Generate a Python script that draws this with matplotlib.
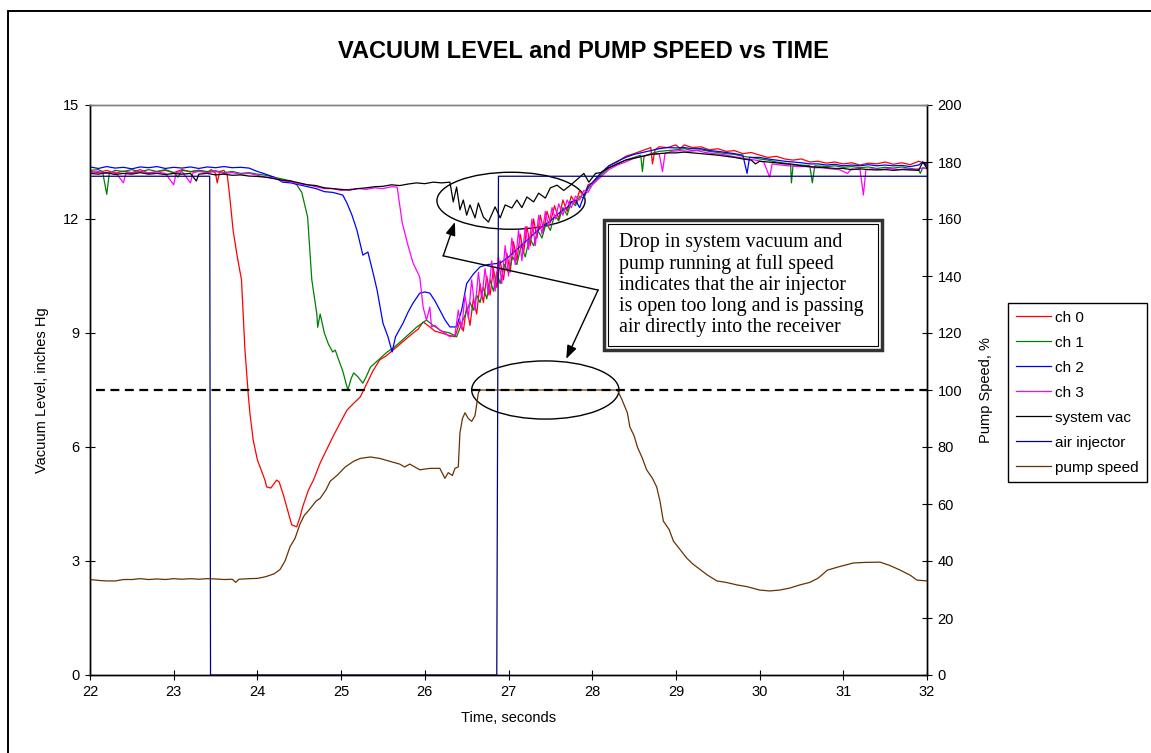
import numpy as np
import matplotlib
matplotlib.use("Agg")
import matplotlib.pyplot as plt
from matplotlib.patches import Ellipse, Rectangle

plt.rcParams['font.family'] = ['Liberation Sans', 'DejaVu Sans']

# ---- data ----
t_ch0 = [22.0, 22.1, 22.2, 22.3, 22.4, 22.5, 22.6, 22.7, 22.8, 22.9, 23.0, 23.1, 23.2, 23.3, 23.4, 23.45, 23.5, 23.52, 23.55, 23.6,
         23.64, 23.67, 23.71, 23.76, 23.81, 23.85, 23.89, 23.91, 23.95, 24.0, 24.09, 24.11, 24.16, 24.23, 24.26, 24.31, 24.37, 24.41, 24.47,
         24.51, 24.54, 24.61, 24.67, 24.75, 24.82, 24.9, 24.98, 25.07, 25.15, 25.23, 25.31, 25.38, 25.46, 25.54, 25.62, 25.7, 25.78,
         25.86, 25.92, 25.98, 26.06, 26.12, 26.2, 26.27, 26.36,
         26.42, 26.46, 26.5, 26.54, 26.58, 26.62, 26.66, 26.7, 26.74, 26.78, 26.82, 26.86, 26.9, 26.94, 26.98, 27.02, 27.06, 27.1,
         27.14, 27.18, 27.22, 27.26, 27.3, 27.34, 27.38, 27.42, 27.46, 27.5, 27.55, 27.6, 27.65, 27.7, 27.75, 27.8, 27.85, 27.9, 27.95, 28.0,
         28.1, 28.2, 28.3, 28.4, 28.5, 28.6, 28.7, 28.72, 28.75, 28.8, 28.9, 29.0, 29.05, 29.1, 29.2, 29.3, 29.4, 29.5, 29.6, 29.7, 29.8,
         29.9, 30.0, 30.1, 30.2, 30.3, 30.4, 30.5, 30.6, 30.7, 30.8, 30.9, 31.0, 31.1, 31.2, 31.3, 31.4, 31.5, 31.6, 31.7, 31.8, 31.9, 32.0]
v_ch0 = [13.25, 13.22, 13.28, 13.2, 13.26, 13.22, 13.3, 13.2, 13.25, 13.28, 13.22, 13.3, 13.24, 13.28, 13.22, 13.3, 13.2, 12.95, 13.25, 13.28,
         13.15, 12.58, 11.7, 11.0, 10.4, 8.6, 7.4, 6.9, 6.18, 5.66, 5.13, 4.95, 4.92, 5.13, 5.08, 4.74, 4.26, 3.95, 3.9,
         4.16, 4.42, 4.87, 5.13, 5.58, 5.9, 6.26, 6.6, 6.97, 7.15, 7.32, 7.68, 8.0, 8.29, 8.4, 8.55, 8.7, 8.85,
         9.0, 9.1, 9.29, 9.16, 9.05, 9.0, 8.95, 8.9,
         9.3, 9.05, 9.7, 9.2, 9.9, 9.5, 10.3, 9.8, 10.5, 10.0, 10.7, 10.2, 10.9, 10.4, 11.1, 10.6, 11.4, 10.9,
         11.6, 11.1, 11.8, 11.3, 12.0, 11.5, 12.1, 11.7, 12.2, 11.9, 12.35, 12.0, 12.5, 12.2, 12.6, 12.4, 12.75, 12.6, 12.9, 12.95,
         13.2, 13.4, 13.5, 13.65, 13.72, 13.8, 13.88, 13.45, 13.82, 13.9, 13.88, 13.95, 13.85, 13.95, 13.88, 13.9, 13.82, 13.85, 13.78, 13.8, 13.72,
         13.75, 13.68, 13.62, 13.65, 13.58, 13.55, 13.58, 13.5, 13.52, 13.47, 13.5, 13.45, 13.48, 13.42, 13.47, 13.45, 13.5, 13.44, 13.48, 13.43, 13.52, 13.45]

t_ch1 = [22.0, 22.1, 22.15, 22.2, 22.23, 22.3, 22.4, 22.5, 22.6, 22.7, 22.8, 22.9, 23.0, 23.05, 23.1, 23.2, 23.3, 23.4, 23.5, 23.6,
         23.7, 23.8, 23.9, 24.0, 24.1, 24.2, 24.3, 24.4, 24.47, 24.53, 24.6, 24.65, 24.71, 24.72, 24.75, 24.8, 24.85, 24.9, 24.93,
         24.97, 25.02, 25.08, 25.12, 25.15, 25.2, 25.26, 25.3, 25.35, 25.45, 25.55, 25.62, 25.7, 25.8, 25.9, 26.02, 26.1, 26.2, 26.3,
         26.38, 26.45, 26.54,
         26.58, 26.62, 26.66, 26.7, 26.74, 26.78, 26.82, 26.86, 26.9, 26.95, 27.0, 27.05, 27.1, 27.15, 27.2, 27.25, 27.3, 27.35, 27.4,
         27.45, 27.5, 27.55, 27.6, 27.65, 27.7, 27.75, 27.8, 27.85, 27.9, 27.95, 28.0, 28.1, 28.2, 28.3, 28.4, 28.5, 28.58, 28.6, 28.62,
         28.7, 28.8, 28.9, 29.0, 29.1, 29.2, 29.3, 29.4, 29.5, 29.6, 29.7, 29.8, 29.9, 30.0, 30.1, 30.2, 30.3, 30.37, 30.38, 30.4,
         30.5, 30.6, 30.63, 30.66, 30.8, 30.9, 31.0, 31.1, 31.2, 31.3, 31.4, 31.5, 31.6, 31.7, 31.8, 31.9, 31.92, 31.95, 32.0]
v_ch1 = [13.28, 13.3, 13.25, 12.65, 13.2, 13.28, 13.25, 13.3, 13.24, 13.3, 13.25, 13.3, 13.22, 13.1, 13.28, 13.25, 13.28, 13.25, 13.27, 13.22,
         13.25, 13.2, 13.22, 13.18, 13.15, 13.1, 13.05, 13.0, 12.9, 12.7, 12.05, 10.4, 9.5, 9.15, 9.5, 9.0, 8.7, 8.5, 8.55,
         8.3, 8.0, 7.5, 7.8, 7.95, 7.85, 7.68, 7.85, 8.1, 8.3, 8.5, 8.6, 8.75, 8.95, 9.15, 9.34, 9.2, 9.05, 9.0,
         8.9, 9.3, 9.8,
         9.6, 10.0, 9.8, 10.2, 9.9, 10.4, 10.1, 10.6, 10.3, 10.8, 10.6, 11.0, 10.8, 11.3, 11.0, 11.5, 11.3, 11.7, 11.5,
         11.9, 11.7, 12.1, 11.95, 12.3, 12.1, 12.45, 12.35, 12.6, 12.55, 12.8, 12.9, 13.15, 13.35, 13.45, 13.55, 13.62, 13.68, 13.25, 13.65,
         13.72, 13.78, 13.8, 13.82, 13.85, 13.8, 13.82, 13.78, 13.75, 13.72, 13.7, 13.65, 13.62, 13.58, 13.55, 13.5, 13.47, 13.45, 12.95, 13.42,
         13.42, 13.4, 12.95, 13.4, 13.38, 13.4, 13.36, 13.38, 13.35, 13.37, 13.33, 13.36, 13.34, 13.37, 13.33, 13.3, 13.2, 13.35, 13.33]

t_ch2 = [22.0, 22.1, 22.2, 22.3, 22.4, 22.5, 22.6, 22.7, 22.8, 22.9, 23.0, 23.1, 23.2, 23.3, 23.4, 23.5, 23.6, 23.7, 23.8, 23.9,
         24.0, 24.1, 24.2, 24.3, 24.4, 24.5, 24.6, 24.7, 24.8, 24.9, 25.02, 25.07, 25.13, 25.19, 25.26, 25.32, 25.38, 25.43, 25.5,
         25.56, 25.61, 25.65, 25.74, 25.8, 25.86, 25.94, 26.0, 26.06, 26.12, 26.18, 26.24, 26.3, 26.38, 26.44, 26.5, 26.58, 26.66,
         26.75, 26.9, 27.0, 27.1, 27.2, 27.3, 27.4, 27.5, 27.6, 27.7, 27.75, 27.8, 27.85, 27.9, 27.95, 28.0, 28.1, 28.2, 28.3, 28.4,
         28.5, 28.6, 28.7, 28.8, 28.9, 29.0, 29.1, 29.2, 29.3, 29.4, 29.5, 29.6, 29.7, 29.8, 29.85, 29.88, 30.0, 30.1, 30.2, 30.3,
         30.4, 30.5, 30.6, 30.7, 30.8, 30.9, 31.0, 31.1, 31.2, 31.3, 31.4, 31.5, 31.6, 31.7, 31.8, 31.9, 31.95, 32.0]
v_ch2 = [13.37, 13.33, 13.38, 13.34, 13.36, 13.32, 13.37, 13.35, 13.38, 13.33, 13.36, 13.34, 13.37, 13.33, 13.37, 13.35, 13.38, 13.35, 13.36, 13.34,
         13.25, 13.18, 13.1, 12.97, 12.95, 12.9, 12.85, 12.8, 12.72, 12.7, 12.63, 12.42, 12.1, 11.7, 11.05, 11.13, 10.6, 10.13, 9.26,
         8.9, 8.5, 8.9, 9.26, 9.55, 9.79, 10.05, 10.08, 10.05, 9.85, 9.6, 9.35, 9.16, 9.16, 9.6, 10.3, 10.55, 10.74,
         10.8, 10.84, 11.0, 11.2, 11.4, 11.6, 11.8, 11.95, 12.15, 12.3, 12.45, 12.5, 12.3, 12.6, 12.85, 12.95, 13.2, 13.4, 13.52, 13.62,
         13.7, 13.75, 13.8, 13.85, 13.88, 13.87, 13.88, 13.85, 13.85, 13.8, 13.78, 13.75, 13.72, 13.68, 13.2, 13.62, 13.62, 13.58, 13.55, 13.52,
         13.5, 13.48, 13.45, 13.45, 13.42, 13.44, 13.4, 13.42, 13.4, 13.43, 13.4, 13.42, 13.4, 13.41, 13.38, 13.42, 13.5, 13.4]

t_ch3 = [22.0, 22.1, 22.2, 22.3, 22.4, 22.43, 22.5, 22.6, 22.7, 22.8, 22.9, 23.0, 23.03, 23.1, 23.2, 23.23, 23.3, 23.4, 23.5, 23.6,
         23.7, 23.8, 23.9, 24.0, 24.1, 24.2, 24.3, 24.4, 24.5, 24.6, 24.7, 24.8, 24.9, 25.0, 25.1, 25.2, 25.3, 25.4, 25.5, 25.6,
         25.67, 25.73, 25.8, 25.86, 25.94, 25.98, 26.02, 26.06, 26.08, 26.12, 26.18, 26.24, 26.3, 26.36,
         26.4, 26.44, 26.48, 26.52, 26.56, 26.6, 26.64, 26.68, 26.72, 26.76, 26.8, 26.84, 26.88, 26.92, 26.96, 27.0, 27.04, 27.08,
         27.12, 27.16, 27.2, 27.24, 27.28, 27.32, 27.36, 27.4, 27.44, 27.48, 27.52, 27.56, 27.6, 27.65, 27.7, 27.75, 27.8, 27.85,
         27.9, 27.95, 28.0, 28.1, 28.2, 28.3, 28.4, 28.5, 28.6, 28.7, 28.8, 28.84, 28.87, 28.95, 29.05, 29.15, 29.25, 29.35, 29.45,
         29.55, 29.65, 29.75, 29.85, 29.95, 30.05, 30.12, 30.15, 30.25, 30.35, 30.45, 30.55, 30.65, 30.75, 30.85, 30.95, 31.05, 31.1,
         31.2, 31.24, 31.27, 31.35, 31.45, 31.55, 31.65, 31.75, 31.85, 31.95, 32.0]
v_ch3 = [13.22, 13.25, 13.2, 13.24, 12.95, 13.22, 13.2, 13.25, 13.22, 13.24, 13.2, 12.9, 13.22, 13.25, 12.95, 13.22, 13.25, 13.22, 13.25, 13.2,
         13.22, 13.18, 13.2, 13.15, 13.1, 13.08, 13.0, 12.98, 12.92, 12.9, 12.85, 12.8, 12.8, 12.75, 12.78, 12.8, 12.78, 12.82, 12.8, 12.85,
         12.84, 11.9, 11.3, 10.84, 10.47, 9.68, 9.34, 9.68, 9.16, 9.2, 9.08, 9.0, 8.9, 8.95,
         9.6, 9.1, 10.0, 9.4, 10.4, 9.6, 10.6, 9.9, 10.7, 10.0, 10.9, 10.1, 11.0, 10.3, 11.3, 10.5, 11.5, 10.8,
         11.7, 10.9, 11.8, 11.2, 12.0, 11.3, 12.1, 11.6, 12.2, 11.8, 12.3, 12.0, 12.4, 12.1, 12.5, 12.3, 12.6, 12.5,
         12.75, 12.7, 12.9, 13.1, 13.3, 13.42, 13.5, 13.6, 13.65, 13.7, 13.72, 13.25, 13.72, 13.78, 13.8, 13.78, 13.8, 13.75, 13.72,
         13.7, 13.66, 13.62, 13.58, 13.55, 13.5, 13.1, 13.45, 13.42, 13.4, 13.38, 13.38, 13.35, 13.35, 13.32, 13.3, 13.2, 13.32,
         13.3, 12.63, 13.3, 13.32, 13.3, 13.33, 13.3, 13.32, 13.3, 13.34, 13.32]

t_sys = [22.0, 22.1, 22.2, 22.3, 22.4, 22.5, 22.6, 22.7, 22.8, 22.9, 23.0, 23.1, 23.2, 23.27, 23.3, 23.4, 23.5, 23.6, 23.7, 23.8,
         23.9, 24.0, 24.1, 24.2, 24.3, 24.4, 24.5, 24.6, 24.7, 24.8, 24.9, 25.0, 25.1, 25.2, 25.3, 25.4, 25.5, 25.6, 25.7, 25.8,
         25.9, 26.0, 26.1, 26.2, 26.3, 26.34, 26.38, 26.42, 26.46, 26.5, 26.54, 26.6, 26.64, 26.7, 26.76, 26.84, 26.9, 26.96, 27.04,
         27.1, 27.16, 27.22, 27.3, 27.36, 27.44, 27.5, 27.58, 27.66, 27.74, 27.84, 27.9, 27.96, 28.04, 28.1, 28.2, 28.3, 28.4, 28.5,
         28.6, 28.7, 28.8, 28.9, 29.0, 29.1, 29.2, 29.3, 29.4, 29.5, 29.6, 29.7, 29.8, 29.9, 29.95, 30.0, 30.1, 30.2, 30.3, 30.4,
         30.5, 30.6, 30.7, 30.8, 30.9, 31.0, 31.1, 31.2, 31.3, 31.4, 31.5, 31.6, 31.7, 31.8, 31.9, 31.95, 32.0]
v_sys = [13.2, 13.18, 13.22, 13.17, 13.2, 13.18, 13.22, 13.18, 13.2, 13.17, 13.2, 13.18, 13.2, 13.0, 13.18, 13.2, 13.16, 13.18, 13.15, 13.16,
         13.13, 13.12, 13.1, 13.06, 13.02, 13.0, 12.95, 12.9, 12.88, 12.82, 12.8, 12.78, 12.76, 12.8, 12.82, 12.85, 12.86, 12.9, 12.88, 12.92,
         12.95, 12.93, 12.97, 12.95, 12.97, 12.45, 12.84, 12.24, 12.5, 12.1, 12.37, 12.03, 12.42, 12.05, 11.92, 12.32, 12.03, 12.37, 12.29,
         12.5, 12.3, 12.58, 12.45, 12.68, 12.55, 12.82, 12.89, 12.75, 12.89, 13.08, 13.2, 12.97, 13.2, 13.22, 13.35, 13.45, 13.55, 13.6,
         13.65, 13.7, 13.72, 13.74, 13.74, 13.76, 13.74, 13.72, 13.7, 13.68, 13.65, 13.62, 13.58, 13.55, 13.45, 13.52, 13.5, 13.48, 13.45, 13.44,
         13.4, 13.38, 13.36, 13.35, 13.33, 13.33, 13.3, 13.32, 13.3, 13.29, 13.3, 13.28, 13.3, 13.29, 13.28, 13.5, 13.33]

t_air = [22.0, 23.43, 23.44, 26.86, 26.88, 32.0]
v_air = [175, 175, 0, 0, 175, 175]

t_pump = [22.0, 22.1, 22.2, 22.3, 22.4, 22.5, 22.6, 22.7, 22.8, 22.9, 23.0, 23.1, 23.2, 23.3, 23.4, 23.5, 23.6, 23.7, 23.74, 23.78,
          23.9, 24.0, 24.1, 24.2, 24.27, 24.33, 24.39, 24.45, 24.51, 24.56, 24.62, 24.7, 24.75, 24.82, 24.87, 24.95, 25.05, 25.15,
          25.23, 25.35, 25.46, 25.58, 25.7, 25.76, 25.82, 25.94, 26.06, 26.18, 26.24, 26.28, 26.33, 26.36, 26.4, 26.42, 26.45, 26.48,
          26.52, 26.56, 26.6, 26.64, 26.66, 28.3, 28.35, 28.42, 28.45, 28.5, 28.54, 28.6, 28.65, 28.72, 28.77, 28.81, 28.85, 28.92,
          28.97, 29.05, 29.13, 29.2, 29.29, 29.38, 29.49, 29.6, 29.73, 29.85, 30.0, 30.12, 30.24, 30.36, 30.48, 30.6, 30.7, 30.81,
          30.95, 31.12, 31.25, 31.44, 31.55, 31.68, 31.8, 31.88, 32.0]
v_pump = [33.5, 33.2, 33.0, 33.0, 33.5, 33.5, 33.8, 33.5, 33.7, 33.5, 33.8, 33.6, 33.8, 33.6, 33.8, 33.7, 33.5, 33.6, 32.5, 33.6,
          33.8, 33.9, 34.5, 35.5, 37.0, 40.0, 45.0, 48.0, 53.0, 56.0, 58.0, 61.0, 62.0, 65.0, 68.0, 70.0, 73.0, 75.0,
          76.0, 76.5, 76.0, 75.0, 74.0, 73.0, 74.0, 72.0, 72.5, 72.5, 69.0, 71.0, 70.0, 72.5, 73.0, 85.0, 90.0, 92.0,
          90.0, 89.0, 91.0, 99.0, 100.0, 100.0, 97.0, 92.0, 87.0, 84.0, 80.0, 76.0, 72.0, 69.0, 66.0, 61.0, 54.0, 51.0,
          47.0, 44.0, 41.0, 39.0, 37.0, 35.0, 33.0, 32.5, 31.6, 31.0, 29.8, 29.5, 29.8, 30.5, 31.6, 32.5, 34.0, 36.8,
          38.0, 39.3, 39.5, 39.6, 38.5, 36.8, 35.0, 33.3, 33.0]

full_speed = 100
note = ("Drop in system vacuum and\npump running at full speed\nindicates that the air injector\n"
        "is open too long and is passing\nair directly into the receiver")

W, H = 1151, 753
fig = plt.figure(figsize=(W / 100, H / 100), dpi=100)
ax = fig.add_axes([90 / W, 1 - 675 / H, (927 - 90) / W, (675 - 105) / H])
ax2 = ax.twinx()

lw = 0.9
ax.plot(t_ch0, v_ch0, color='#FF0000', lw=lw, label='ch 0')
ax.plot(t_ch1, v_ch1, color='#008000', lw=lw, label='ch 1')
ax.plot(t_ch2, v_ch2, color='#0000FF', lw=lw, label='ch 2')
ax.plot(t_ch3, v_ch3, color='#FF00FF', lw=lw, label='ch 3')
ax.plot(t_sys, v_sys, color='black', lw=lw, label='system vac')
ax2.plot(t_air, v_air, color='#000080', lw=lw, label='air injector')
ax2.plot(t_pump, v_pump, color='#663300', lw=lw, label='pump speed')
ax2.axhline(full_speed, xmin=0.007, xmax=1, color='black', lw=1.6, ls=(0, (4, 2.5)))

ax.set_xlim(22, 32)
ax.set_ylim(0, 15)
ax2.set_ylim(0, 200)
ax.set_xticks(range(22, 33))
ax.set_yticks(range(0, 16, 3))
ax2.set_yticks(range(0, 201, 20))
for a in (ax, ax2):
    a.tick_params(direction='inout', length=7, width=0.8, labelsize=10.5, pad=4)
    for s in a.spines.values():
        s.set_linewidth(1.0)
    a.spines['top'].set_color('#808080')
ax.set_xlabel('Time, seconds', fontsize=10.5, labelpad=8)
ax.set_ylabel('Vacuum Level, inches Hg', fontsize=10.5, labelpad=10)
ax2.set_ylabel('Pump Speed, %', fontsize=10.5, labelpad=12)

fig.text(583 / W, 1 - 52 / H, 'VACUUM LEVEL and PUMP SPEED vs TIME', ha='center', va='center',
         fontsize=17, fontweight='bold')

# callout ellipses and arrows
ax.add_patch(Ellipse((27.03, 12.48), 1.77, 1.5, fill=False, color='black', lw=1))
ax.add_patch(Ellipse((27.44, 7.5), 1.76, 1.53, fill=False, color='black', lw=1))
ax.plot([26.22, 28.07], [11.03, 10.13], color='black', lw=1)
arrow = dict(arrowstyle='-|>,head_length=0.8,head_width=0.3', color='black', lw=1, shrinkA=0, shrinkB=0)
ax.annotate('', xy=(26.36, 11.92), xytext=(26.22, 11.03), arrowprops=arrow)
ax.annotate('', xy=(27.69, 8.32), xytext=(28.07, 10.13), arrowprops=arrow)

# note box with double border
fig.patches.append(Rectangle((604 / W, 1 - 350 / H), 278 / W, 130 / H, transform=fig.transFigure,
                             fill=False, ec='#333333', lw=2.5))
fig.patches.append(Rectangle((608 / W, 1 - 346 / H), 270 / W, 122 / H, transform=fig.transFigure,
                             fill=True, fc='white', ec='black', lw=0.8, zorder=3))
fig.text(619 / W, 1 - 285 / H, note, ha='left', va='center', fontsize=14.3,
         family=['Liberation Serif', 'DejaVu Serif'], linespacing=1.14, zorder=4)

# outer frame (left and top edges visible)
fig.patches.append(Rectangle((8 / W, -0.5), 2, 1.5 - 11 / H, transform=fig.transFigure,
                             fill=False, ec='black', lw=1.4))

h1, l1 = ax.get_legend_handles_labels()
h2, l2 = ax2.get_legend_handles_labels()
fig.legend(h1 + h2, l1 + l2, loc='upper left', bbox_to_anchor=(1008 / W, 1 - 303 / H),
           fontsize=11, frameon=True, fancybox=False, edgecolor='black', framealpha=1,
           handlelength=2.3, labelspacing=0.72, borderpad=0.5, handletextpad=0.3, borderaxespad=0)

fig.savefig('out.png', dpi=100)
